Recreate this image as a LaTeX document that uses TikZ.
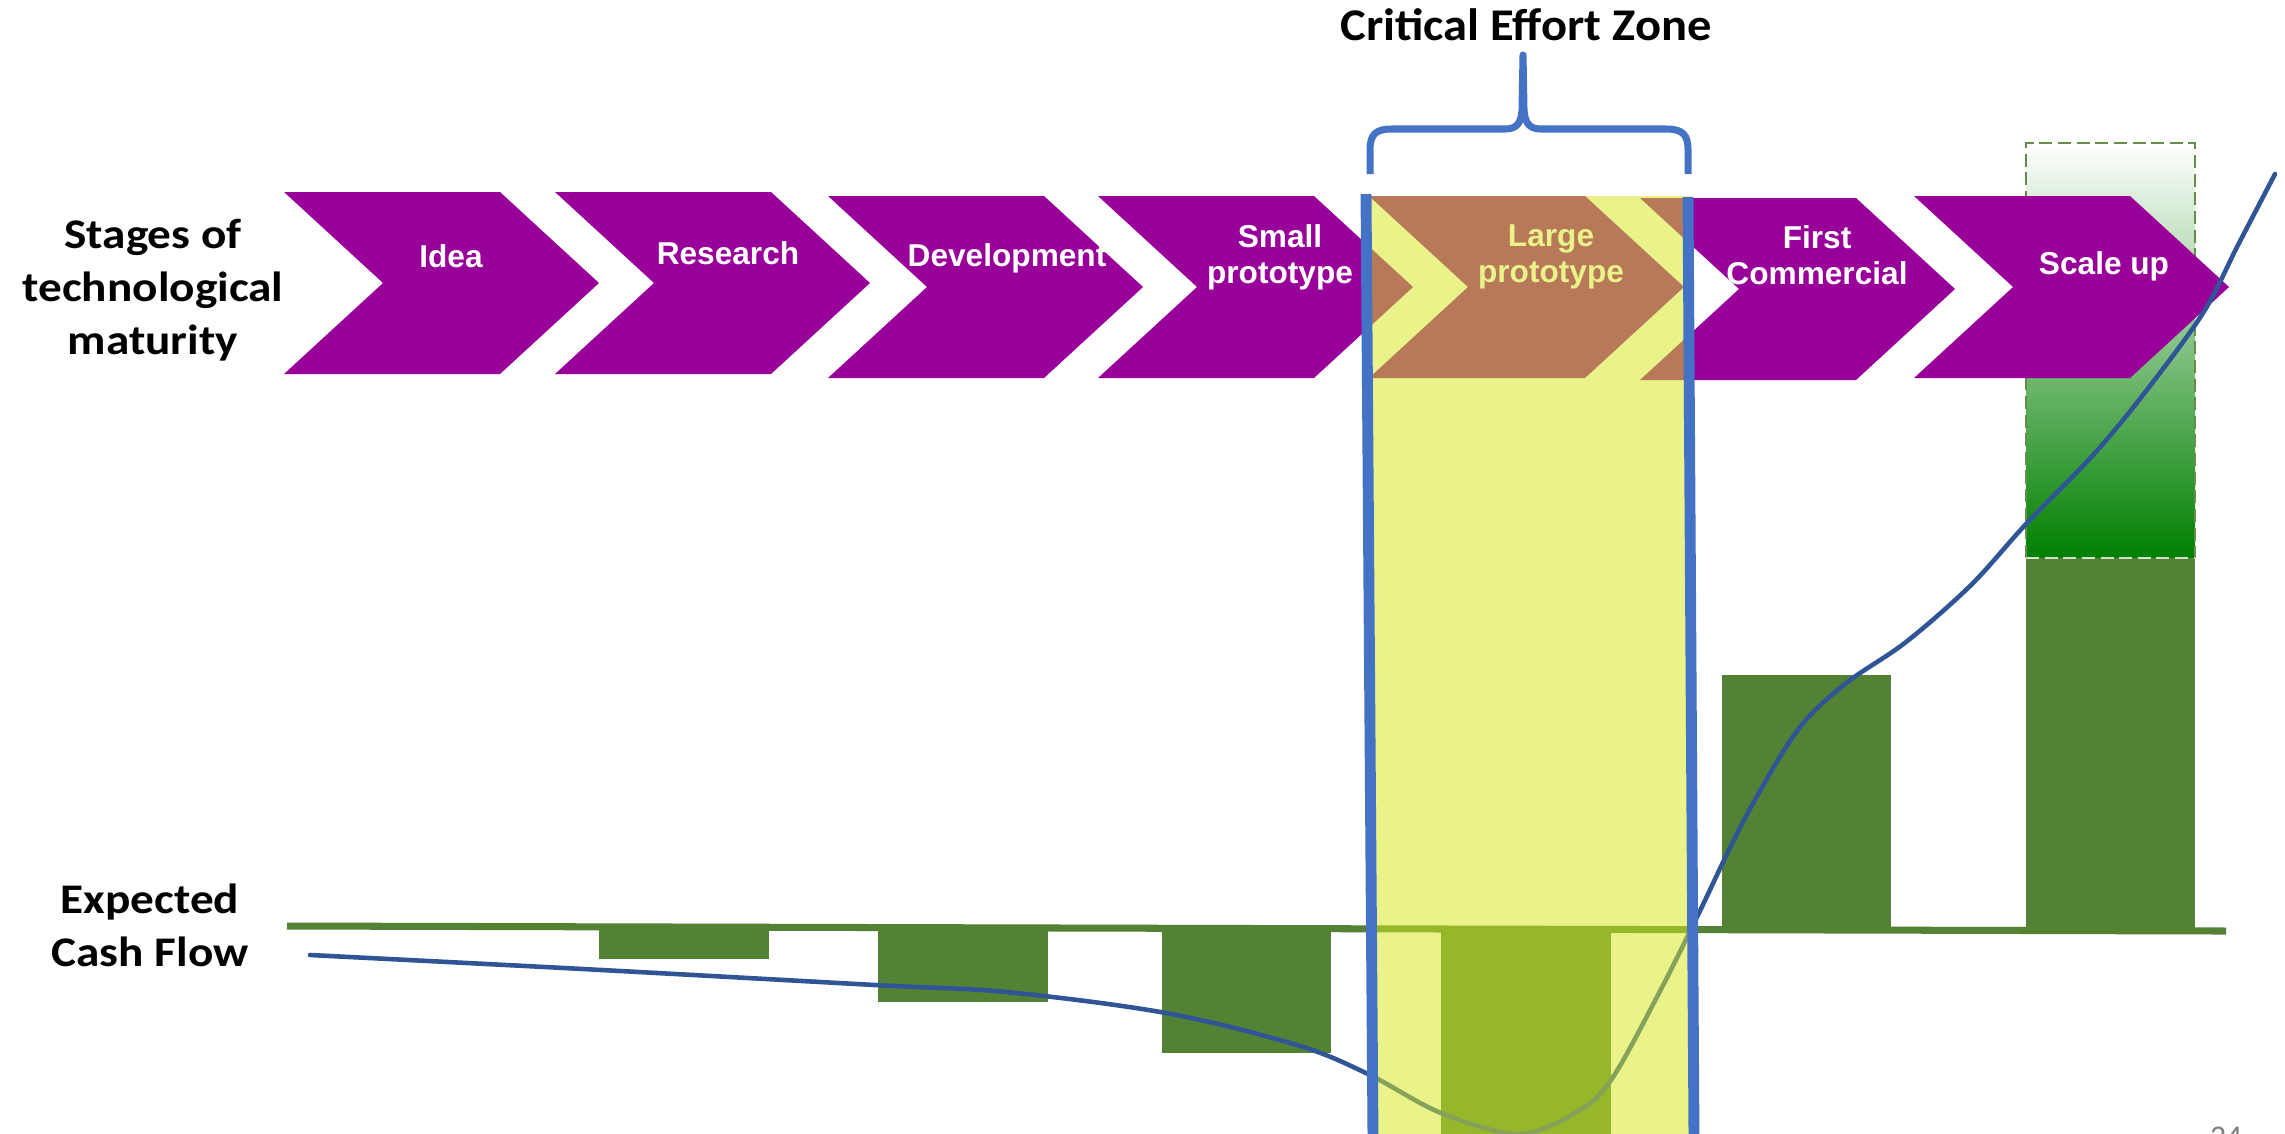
\documentclass[tikz,border=0pt]{standalone}
\usepackage{fontspec}
\setmainfont{Liberation Sans}
\newfontfamily\calibri{Carlito}
\newfontfamily\sidefont[FakeStretch=1.12]{Carlito}
\newfontfamily\titlefont[FakeStretch=1.07]{Carlito}
\usepackage{tikz}

\definecolor{stagepurple}{RGB}{153,0,153}
\definecolor{cashgreen}{RGB}{84,130,53}
\definecolor{upgreen}{RGB}{0,128,0}
\definecolor{zoneyellow}{RGB}{213,233,32}
\definecolor{zoneblue}{RGB}{68,114,196}
\definecolor{curveblue}{RGB}{47,85,151}

\tikzset{
    stage/.style={fill=stagepurple}, % Chevrons of the maturity stages
    stage label/.style={
        text=white,
        font=\bfseries\fontsize{9}{10.2}\selectfont,
        align=center,
        inner sep=0pt
    },
    side label/.style={
        font=\sidefont\bfseries\fontsize{12}{15}\selectfont,
        align=center,
        inner sep=0pt
    },
    bar/.style={fill=cashgreen},
    axis/.style={draw=cashgreen, line width=2pt},
    outlook/.style={ % Dashed frame of the expected growth
        draw=cashgreen!90,
        line width=0.7pt,
        dash pattern=on 3.7pt off 1.6pt
    },
    cash curve/.style={draw=curveblue, line width=1.3pt, line cap=round},
    zone/.style={fill=zoneyellow, fill opacity=0.52},
    zone edge/.style={draw=zoneblue, line width=3.1pt},
    brace line/.style={draw=zoneblue, line width=2pt, line join=round}
}

\begin{document}
\begin{tikzpicture}[x=0.1mm, y=-0.1mm]
    \useasboundingbox (0,0) rectangle (2285,1133);
    \fill[white] (0,0) rectangle (2285,1133);

    % expected growth above the scale-up bar
    \shade[top color=white, middle color=upgreen!18!white, bottom color=upgreen]
        (2026,143) rectangle (2195,558);
    \draw[outlook] (2026,558) -- (2026,143) -- (2195,143) -- (2195,558);

    % cash flow bars
    \fill[bar] (599,929) rectangle (769,959);
    \fill[bar] (878,929) rectangle (1048,1002);
    \fill[bar] (1162,929) rectangle (1331,1053);
    \fill[bar] (1441,929) rectangle (1611,1140);
    \fill[bar] (1722,675) rectangle (1891,929);
    \fill[bar] (2026,558) rectangle (2195,929);
    \draw[outlook, draw=white!75!cashgreen] (2026,558) -- (2195,558);
    \draw[axis] (287,926) -- (2226,931);

    % stages of technological maturity
    \foreach \l/\t in {284/192, 555/192, 828/196, 1098/196, 1369/196, 1640/198, 1914/196}
        \fill[stage] (\l,\t) -- ++(216,0) -- ++(99,91) -- ++(-99,91)
            -- ++(-216,0) -- ++(99,-91) -- cycle;

    \node[stage label] (idea) at (451,256) {Idea};
    \node[stage label] (research) at (728,253) {Research};
    \node[stage label] (development) at (1007,258) {Development};
    \node[stage label] (small) at (1280,257) {Small\\prototype};
    \node[stage label] (large) at (1551,257) {Large\\prototype};
    \node[stage label] (first) at (1817,255) {First\\Commercial};
    \node[stage label] (scaleup) at (2104,266) {Scale up};

    % expected cash flow
    \draw[cash curve] plot[smooth, tension=0.55] coordinates {
        (310,955) (583,969) (875,985) (1006,992) (1166,1013) (1297,1045)
        (1368,1074) (1441,1113) (1518,1134) (1575,1113) (1611,1080)
        (1659,993) (1697,917) (1744,820) (1797,731) (1845,684) (1906,642)
        (1971,585) (2026,524) (2094,454) (2146,391) (2203,313) (2238,245)
        (2275,174)};

    % critical effort zone
    \fill[zone] (1369,196) rectangle (1691,1140);
    \draw[zone edge] (1366,194) -- (1373,1140);
    \draw[zone edge] (1688,197) -- (1694,1140);
    \draw[brace line] (1370,174) -- (1370,150)
        .. controls (1370,134) and (1376,129) .. (1392,129) -- (1505,129)
        .. controls (1516,129) and (1521,124) .. (1522,110) -- (1523,55)
        -- (1524,110) .. controls (1525,124) and (1530,129) .. (1541,129)
        -- (1666,129) .. controls (1682,129) and (1688,134) .. (1688,150)
        -- (1688,174);
    \node[anchor=base, inner sep=0pt, font=\titlefont\bfseries\fontsize{12.9}{15}\selectfont]
        (zonetitle) at (1526,40) {Critical Effort Zone};

    \node[side label] (stages) at (153,290) {Stages of\\technological\\maturity};
    \node[side label] (cashflow) at (150,925) {Expected\\Cash Flow};

    \node[anchor=base, inner sep=0pt, text=gray, font=\calibri\fontsize{9}{10}\selectfont]
        (page) at (2226,1147) {24};
\end{tikzpicture}
\end{document}
